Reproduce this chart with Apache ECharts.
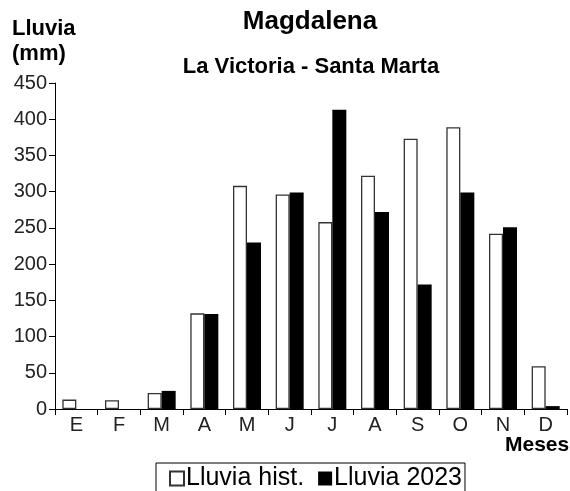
<!DOCTYPE html>
<html><head><meta charset="utf-8">
<script src="https://cdn.jsdelivr.net/npm/echarts@6/dist/echarts.min.js"></script>
<style>html,body{margin:0;padding:0;background:#fff}#c{width:570px;height:491px}</style>
</head><body><div id="c"></div>
<script>
var months = ['E','F','M','A','M','J','J','A','S','O','N','D'];
var histValues = [13, 12, 22, 132, 308, 296, 258, 322, 373, 389, 242, 59];
var values2023 = [0, 0, 25, 131, 230, 299, 413, 272, 172, 299, 251, 4];
var yTicks = {min: 0, max: 450, interval: 50};
var seriesNames = ['Lluvia hist.', 'Lluvia 2023'];

var font = '"Liberation Sans", Arial, sans-serif';
var chart = echarts.init(document.getElementById('c'), null, {renderer: 'canvas'});
chart.setOption({
  animation: false,
  backgroundColor: '#fff',
  textStyle: {fontFamily: font},
  title: [
    {text: 'Magdalena', left: 310, top: 9, textAlign: 'center', padding: 0,
     textStyle: {fontSize: 26, fontWeight: 'bold', color: '#000', fontFamily: font}},
    {text: 'La Victoria - Santa Marta', left: 311, top: 56, textAlign: 'center', padding: 0,
     textStyle: {fontSize: 22, fontWeight: 'bold', color: '#000', fontFamily: font}},
    {text: 'Lluvia\n(mm)', left: 12, top: 16, padding: 0,
     textStyle: {fontSize: 22, fontWeight: 'bold', color: '#000', lineHeight: 25, fontFamily: font}},
    {text: 'Meses', left: 505, top: 435, padding: 0,
     textStyle: {fontSize: 21, fontWeight: 'bold', color: '#000', fontFamily: font}}
  ],
  legend: {
    data: seriesNames,
    left: 156, top: 463,
    padding: [3, 3, 10, 13],
    borderColor: '#000', borderWidth: 1,
    itemWidth: 14, itemHeight: 14, itemGap: 14,
    icon: 'rect',
    textStyle: {fontSize: 25, color: '#000', fontFamily: font, padding: [0, 0, 0, -3]}
  },
  grid: {left: 55, right: 3, top: 83, bottom: 82, containLabel: false},
  xAxis: {
    type: 'category', data: months,
    axisLine: {lineStyle: {color: '#000', width: 1}},
    axisTick: {show: true, alignWithLabel: false, length: 6, lineStyle: {color: '#000'}},
    axisLabel: {fontSize: 20, color: '#222', margin: 6, fontFamily: font}
  },
  yAxis: {
    type: 'value', min: yTicks.min, max: yTicks.max, interval: yTicks.interval,
    splitLine: {show: false},
    axisLine: {show: true, lineStyle: {color: '#000', width: 1}},
    axisTick: {show: true, length: 6, lineStyle: {color: '#000'}},
    axisLabel: {fontSize: 20, color: '#222', margin: 8, fontFamily: font}
  },
  series: [
    {name: seriesNames[0], type: 'bar', data: histValues, barWidth: 14, barGap: '0%',
     itemStyle: {color: '#fff', borderColor: '#333', borderWidth: 1.3}},
    {name: seriesNames[1], type: 'bar', data: values2023, barWidth: 14,
     itemStyle: {color: '#000', borderColor: '#000', borderWidth: 0}}
  ]
});
</script></body></html>
